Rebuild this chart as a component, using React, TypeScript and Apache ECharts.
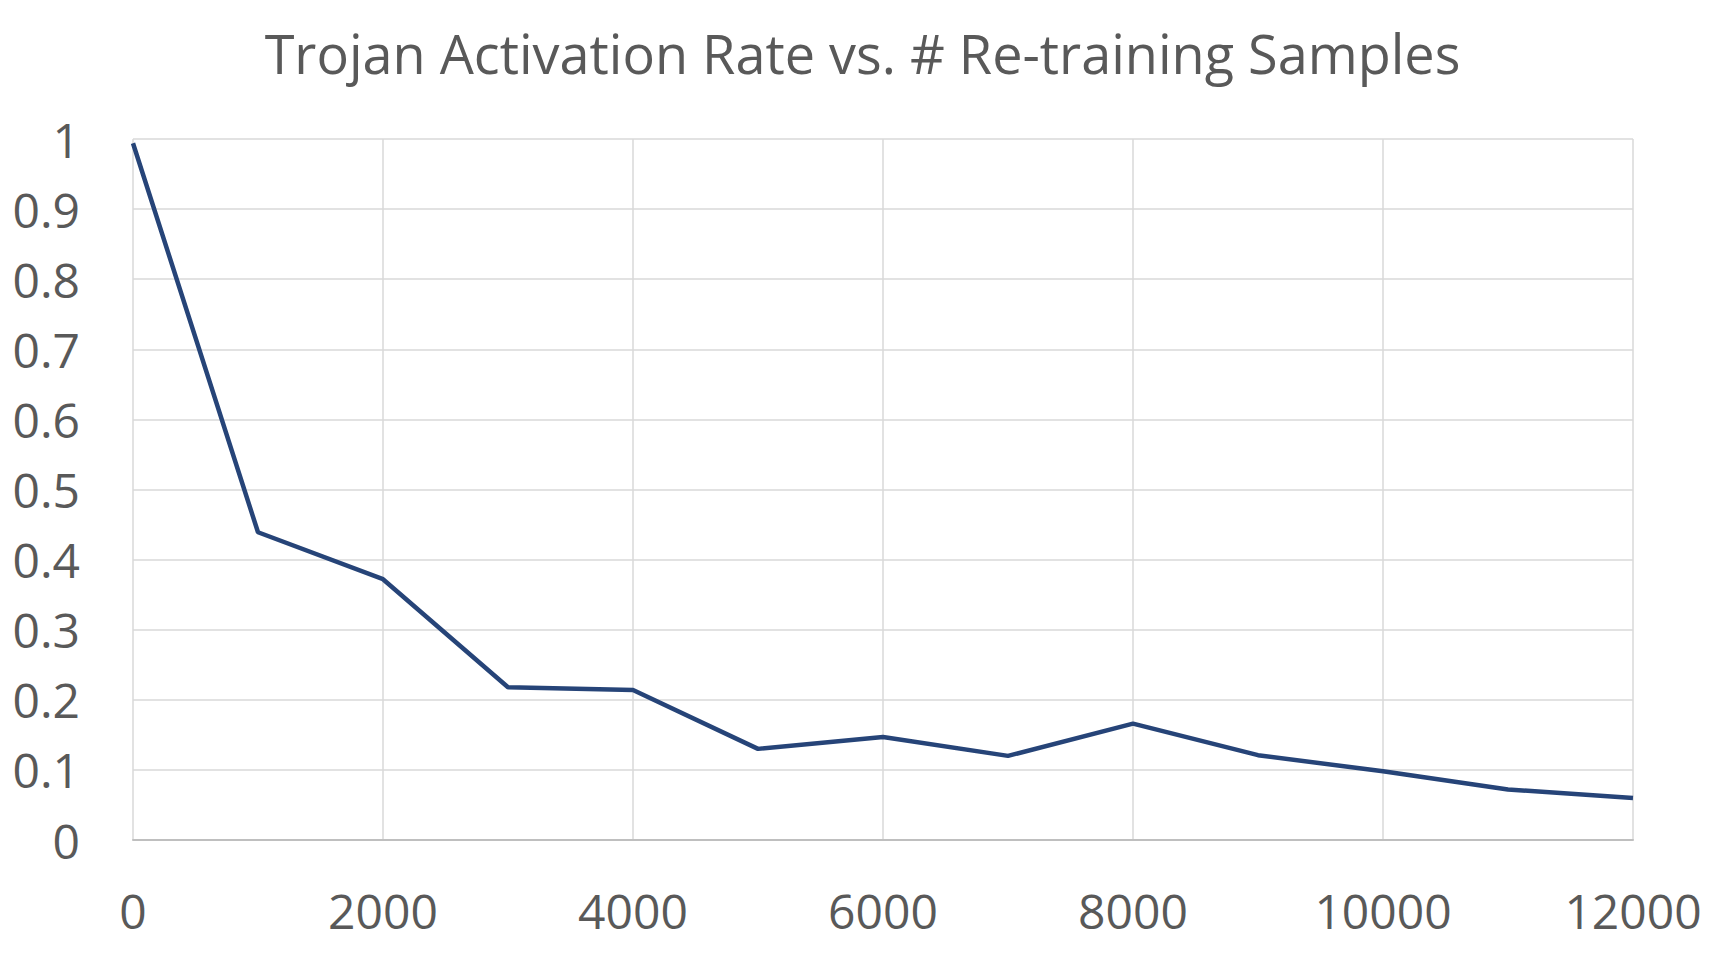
import React, { useEffect, useRef } from "react";
import * as echarts from "echarts";

const titleText = "Trojan Activation Rate vs. # Re-training Samples";
const samples = [0, 1000, 2000, 3000, 4000, 5000, 6000, 7000, 8000, 9000, 10000, 11000, 12000];
const activationRate = [0.994, 0.439, 0.372, 0.218, 0.214, 0.13, 0.147, 0.12, 0.166, 0.121, 0.098, 0.072, 0.06];

const FONT = "'Open Sans', sans-serif";
const TEXT_COLOR = "#595959";

export default function App() {
  const ref = useRef<HTMLDivElement>(null);

  useEffect(() => {
    document.body.style.margin = "0";
    if (!ref.current) return;
    const chart = echarts.init(ref.current, undefined, { renderer: "svg" });
    const points = samples.map((x, i) => [x, activationRate[i]]);
    chart.setOption({
      animation: false,
      backgroundColor: "#ffffff",
      title: {
        text: titleText,
        left: "center",
        top: 21,
        textStyle: {
          fontFamily: FONT,
          fontSize: 54,
          fontWeight: "normal",
          color: TEXT_COLOR,
        },
      },
      grid: { left: 133, right: 92, top: 139, bottom: 114, containLabel: false },
      xAxis: {
        type: "value",
        min: 0,
        max: 12000,
        interval: 2000,
        axisLine: { show: true, lineStyle: { color: "#bfbfbf", width: 2 } },
        axisTick: { show: false },
        axisLabel: {
          fontFamily: FONT,
          fontSize: 48,
          color: TEXT_COLOR,
          margin: 46,
          formatter: (v: number) => String(v),
        },
        splitLine: { show: true, lineStyle: { color: "#d9d9d9", width: 1.5 } },
      },
      yAxis: {
        type: "value",
        min: 0,
        max: 1,
        interval: 0.1,
        axisLine: { show: false },
        axisTick: { show: false },
        axisLabel: {
          fontFamily: FONT,
          fontSize: 48,
          color: TEXT_COLOR,
          margin: 53,
        },
        splitLine: { show: true, lineStyle: { color: "#d9d9d9", width: 1.5 } },
      },
      series: [
        {
          type: "line",
          data: points,
          showSymbol: false,
          symbol: "none",
          lineStyle: { color: "#264478", width: 4.5 },
          itemStyle: { color: "#264478" },
        },
      ],
    });
    return () => chart.dispose();
  }, []);

  return <div ref={ref} style={{ width: 1725, height: 954 }} />;
}
